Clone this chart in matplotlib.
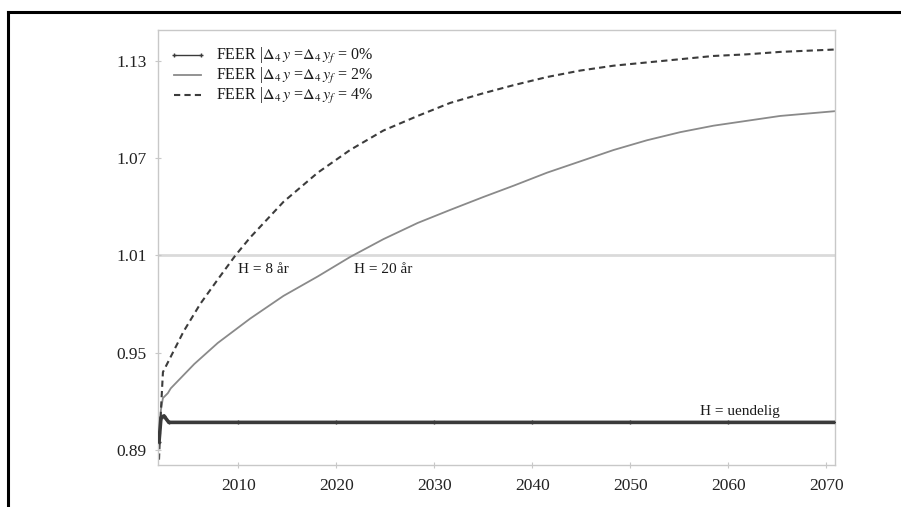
import matplotlib
matplotlib.use("Agg")
import matplotlib.pyplot as plt
from matplotlib.lines import Line2D

plt.rcParams['font.family'] = ['Liberation Serif', 'DejaVu Serif']
plt.rcParams['mathtext.fontset'] = 'stix'

# FEER paths for three growth assumptions
years_0 = [2001.9, 2002.1, 2002.4, 2002.9, 2010, 2020, 2030, 2040, 2050, 2060, 2071]
feer_0 = [0.895, 0.910, 0.911, 0.907, 0.907, 0.907, 0.907, 0.907, 0.907, 0.907, 0.907]

years_2 = [2001.9, 2002.1, 2002.3, 2002.8, 2003.1, 2005.5, 2007.9, 2011.2, 2014.6,
           2018.1, 2021.4, 2024.8, 2028.3, 2031.6, 2035.0, 2038.1, 2041.5, 2044.9,
           2048.3, 2051.7, 2055.1, 2058.5, 2061.9, 2065.3, 2071.0]
feer_2 = [0.900, 0.915, 0.922, 0.925, 0.928, 0.943, 0.956, 0.971, 0.985,
          0.997, 1.009, 1.020, 1.030, 1.038, 1.046, 1.053, 1.061, 1.068,
          1.075, 1.081, 1.086, 1.090, 1.093, 1.096, 1.099]

years_4 = [2001.9, 2002.1, 2002.3, 2004.4, 2006.1, 2008.0, 2009.7, 2011.2, 2014.6,
           2018.1, 2021.4, 2024.8, 2028.3, 2031.6, 2035.0, 2038.1, 2041.5, 2044.9,
           2048.3, 2051.7, 2055.1, 2058.5, 2061.9, 2065.3, 2071.0]
feer_4 = [0.884, 0.915, 0.938, 0.963, 0.980, 0.996, 1.010, 1.021, 1.043,
          1.061, 1.075, 1.087, 1.096, 1.104, 1.110, 1.115, 1.120, 1.124,
          1.127, 1.129, 1.131, 1.133, 1.134, 1.1355, 1.137]

labels = [r"FEER |$\Delta_4\,y$ =$\Delta_4\,y_f$ = 0%",
          r"FEER |$\Delta_4\,y$ =$\Delta_4\,y_f$ = 2%",
          r"FEER |$\Delta_4\,y$ =$\Delta_4\,y_f$ = 4%"]

yticks = [0.89, 0.95, 1.01, 1.07, 1.13]
xticks = [2010, 2020, 2030, 2040, 2050, 2060, 2070]

fig = plt.figure(figsize=(9.01, 5.07), dpi=100)
ax = fig.add_axes([0.1754, 0.0828, 0.7514, 0.858])

ax.axhline(1.01, color='#dadada', lw=2, zorder=1)

ax.plot(years_0, feer_0, color='#3a3a3a', lw=2.6, marker='+', ms=3, mew=1,
        label=labels[0], zorder=3)
ax.plot(years_2, feer_2, color='#8a8a8a', lw=1.3, label=labels[1], zorder=2)
ax.plot(years_4, feer_4, color='#3c3c3c', lw=1.5, ls=(0, (3, 2)), label=labels[2], zorder=2)

ax.text(2010.0, 1.001, "H = 8 år", fontsize=11, color='#1a1a1a', va='center')
ax.text(2021.8, 1.001, "H = 20 år", fontsize=11, color='#1a1a1a', va='center')
ax.text(2057.1, 0.914, "H = uendelig", fontsize=11, color='#1a1a1a', va='center')

ax.set_xlim(2001.8, 2070.9)
ax.set_ylim(0.8807, 1.149)
ax.set_xticks(xticks)
ax.set_yticks(yticks)
ax.set_yticklabels([f"{v:.2f}" for v in yticks])

for s in ax.spines.values():
    s.set_color('#c8c8c8')
    s.set_linewidth(1)
ax.tick_params(colors='#c8c8c8', labelcolor='#222222', labelsize=12.5,
               direction='inout', length=4)
ax.tick_params(axis='y', pad=6)
ax.tick_params(axis='x', pad=7)

leg = ax.legend(loc='upper left', bbox_to_anchor=(0.0, 0.988), frameon=False,
                fontsize=11.5, handlelength=2.3, handletextpad=0.6, labelspacing=0.0,
                borderaxespad=0.4, borderpad=0.3, numpoints=2)
leg.legend_handles[0].set_linewidth(1)
for t in leg.get_texts():
    t.set_color('#1a1a1a')

# black frame along top and left
fig.add_artist(Line2D([8 / 901, 8 / 901], [0, 1 - 12 / 507], color='black', lw=2.2,
                      transform=fig.transFigure))
fig.add_artist(Line2D([8 / 901, 1], [1 - 12 / 507, 1 - 12 / 507], color='black', lw=2.2,
                      transform=fig.transFigure))

fig.savefig("out.png", dpi=100)
